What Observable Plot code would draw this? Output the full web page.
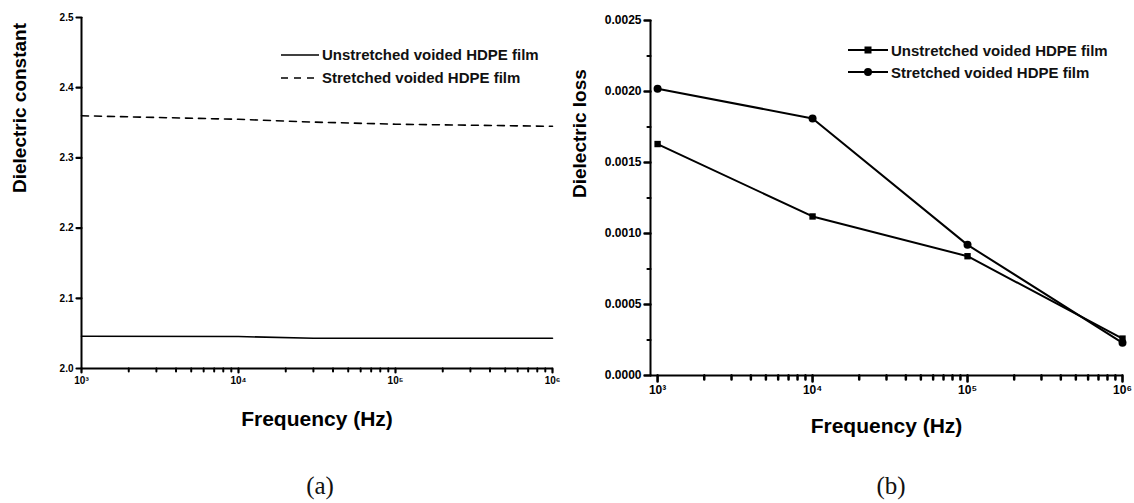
<!DOCTYPE html>
<html>
<head>
<meta charset="utf-8">
<script src="https://cdn.jsdelivr.net/npm/d3@7"></script>
<script src="https://cdn.jsdelivr.net/npm/@observablehq/plot@0.6"></script>
<style>
  body { margin: 0; background: #fff; }
  #wrap { position: relative; width: 1134px; height: 503px; overflow: hidden; font-family: "Liberation Sans", Arial, sans-serif; color: #111; }
  .panel { position: absolute; top: 0; }
  .legend { position: absolute; font-weight: bold; font-size: 15px; color: #111; }
  .legend .row { display: flex; align-items: center; white-space: nowrap; }
  .legend svg { margin-right: 3px; }
  .cap { position: absolute; font-family: "Liberation Serif", "DejaVu Serif", serif; font-size: 25px; color: #111; transform: translateX(-50%); }
</style>
</head>
<body>
<div id="wrap">
  <div id="pa" class="panel" style="left:0"></div>
  <div id="pb" class="panel" style="left:567px"></div>
  <div id="lega" class="legend" style="left:281px; top:43px"></div>
  <div id="legb" class="legend" style="left:848px; top:39px"></div>
  <div class="cap" id="capa" style="left:320px; top:472px"></div>
  <div class="cap" id="capb" style="left:891px; top:472px"></div>
</div>
<script>
// ---- Data ----
const seriesNames = ["Unstretched voided HDPE film", "Stretched voided HDPE film"];
const panelCaptions = ["(a)", "(b)"];
const xLabel = "Frequency (Hz)";
const yLabelA = "Dielectric constant";
const yLabelB = "Dielectric loss";

// (a) dielectric constant
const freqA = [1e3, 1e4, 3e4, 1e5, 1e6];
const unstretchedA = [2.046, 2.0455, 2.043, 2.043, 2.043];
const stretchedA = [2.360, 2.355, 2.351, 2.348, 2.345];
const yTicksA = [2.0, 2.1, 2.2, 2.3, 2.4, 2.5];

// (b) dielectric loss
const freqB = [1e3, 1e4, 1e5, 1e6];
const unstretchedB = [0.00163, 0.00112, 0.00084, 0.00026];
const stretchedB = [0.00202, 0.00181, 0.00092, 0.00023];
const yTicksB = [0, 0.0005, 0.0010, 0.0015, 0.0020, 0.0025];
const yMinorB = [0.00025, 0.00075, 0.00125, 0.00175, 0.00225];

const xMajor = [1e3, 1e4, 1e5, 1e6];
const xMinor = [];
for (let e = 3; e < 6; e++) for (let m = 2; m <= 9; m++) xMinor.push(m * 10 ** e);

const sup = {"0":"⁰","1":"¹","2":"²","3":"³","4":"⁴","5":"⁵","6":"⁶","7":"⁷","8":"⁸","9":"⁹"};
const fmtPow = d => "10" + String(Math.round(Math.log10(d))).split("").map(c => sup[c]).join("");

const ink = "#000";

// tick marks drawn as thin zero-width spikes hanging off the axis lines
const xTicks = (vals, yBase, len, w) => Plot.vector(vals, {x: d => d, y: yBase, length: len, rotate: 180, anchor: "start", shape: "spike", r: 0.01, stroke: ink, strokeWidth: w, fill: "none"});
const yTicks = (vals, xBase, len, w) => Plot.vector(vals, {x: xBase, y: d => d, length: len, rotate: 270, anchor: "start", shape: "spike", r: 0.01, stroke: ink, strokeWidth: w, fill: "none"});

// ---- Panel (a) ----
const rowsA = freqA.flatMap((f, i) => [
  {f, v: unstretchedA[i], s: seriesNames[0]},
  {f, v: stretchedA[i], s: seriesNames[1]}
]);
const xDomainA = [1e3, 1e6];
const chartA = Plot.plot({
  width: 567, height: 450,
  marginLeft: 81, marginRight: 15, marginTop: 17, marginBottom: 82,
  style: {fontFamily: "Liberation Sans, Arial, sans-serif", color: ink, background: "#fff"},
  x: {type: "log", domain: xDomainA},
  y: {domain: [2.0, 2.5]},
  marks: [
    Plot.axisY({ticks: yTicksA, tickSize: 0, tickPadding: 8, tickFormat: d => d.toFixed(1), fontSize: 10, fontWeight: "bold", letterSpacing: 1.5, label: null}),
    Plot.axisX({ticks: xMajor, tickSize: 0, tickPadding: 8, tickFormat: fmtPow, fontSize: 10, fontWeight: "bold", label: null}),
    xTicks(xMinor, yTicksA[0], 3, 2),
    xTicks(xMajor, yTicksA[0], 4, 2.2),
    yTicks(yTicksA, xDomainA[0], 5, 2.2),
    Plot.ruleY([yTicksA[0]], {stroke: ink, strokeWidth: 2}),
    Plot.ruleX([xDomainA[0]], {stroke: ink, strokeWidth: 2}),
    Plot.line(rowsA.filter(d => d.s === seriesNames[0]), {x: "f", y: "v", stroke: ink, strokeWidth: 1.6}),
    Plot.line(rowsA.filter(d => d.s === seriesNames[1]), {x: "f", y: "v", stroke: ink, strokeWidth: 1.6, strokeDasharray: "7,6"}),
    Plot.text([xLabel], {text: d => d, frameAnchor: "bottom", dy: 57, fontSize: 21, fontWeight: "bold", fill: ink}),
    Plot.text([yLabelA], {text: d => d, frameAnchor: "left", dx: -62, rotate: -90, fontSize: 19, fontWeight: "bold", fill: ink})
  ]
});
document.getElementById("pa").appendChild(chartA);

// ---- Panel (b) ----
const rowsB = freqB.flatMap((f, i) => [
  {f, v: unstretchedB[i], s: seriesNames[0]},
  {f, v: stretchedB[i], s: seriesNames[1]}
]);
const xDomainB = [900, 1e6];
const chartB = Plot.plot({
  width: 567, height: 450,
  marginLeft: 83, marginRight: 12, marginTop: 20, marginBottom: 75,
  style: {fontFamily: "Liberation Sans, Arial, sans-serif", color: ink, background: "#fff"},
  x: {type: "log", domain: xDomainB},
  y: {domain: [0, 0.0025]},
  marks: [
    Plot.axisY({ticks: yTicksB, tickSize: 0, tickPadding: 9, tickFormat: d => d.toFixed(4), fontSize: 12, fontWeight: "bold", letterSpacing: 0.6, label: null}),
    Plot.axisX({ticks: xMajor, tickSize: 0, tickPadding: 10, tickFormat: fmtPow, fontSize: 12, fontWeight: "bold", label: null}),
    xTicks(xMinor, yTicksB[0], 4, 2.5),
    xTicks(xMajor, yTicksB[0], 6, 2.6),
    yTicks(yMinorB, xDomainB[0], 3, 2.2),
    yTicks(yTicksB, xDomainB[0], 6, 2.4),
    Plot.ruleY([yTicksB[0]], {stroke: ink, strokeWidth: 2}),
    Plot.ruleX([xDomainB[0]], {stroke: ink, strokeWidth: 2}),
    Plot.line(rowsB, {x: "f", y: "v", z: "s", stroke: ink, strokeWidth: 2}),
    Plot.dot(rowsB.filter(d => d.s === seriesNames[0]), {x: "f", y: "v", symbol: "square", r: 3.6, fill: ink}),
    Plot.dot(rowsB.filter(d => d.s === seriesNames[1]), {x: "f", y: "v", symbol: "circle", r: 4, fill: ink}),
    Plot.text([xLabel], {text: d => d, frameAnchor: "bottom", dy: 57, fontSize: 21, fontWeight: "bold", fill: ink}),
    Plot.text([yLabelB], {text: d => d, frameAnchor: "left", dx: -71, rotate: -90, fontSize: 19, fontWeight: "bold", fill: ink})
  ]
});
document.getElementById("pb").appendChild(chartB);

// ---- Legends ----
function legendRow(parent, name, sample, h) {
  const row = document.createElement("div");
  row.className = "row";
  row.style.height = h + "px";
  row.innerHTML = sample + "<span>" + name + "</span>";
  parent.appendChild(row);
}
const lega = document.getElementById("lega");
legendRow(lega, seriesNames[0], `<svg width="38" height="6"><line x1="0" x2="38" y1="3" y2="3" stroke="${ink}" stroke-width="1.6"/></svg>`, 23);
legendRow(lega, seriesNames[1], `<svg width="38" height="6"><line x1="0" x2="38" y1="3" y2="3" stroke="${ink}" stroke-width="1.6" stroke-dasharray="7,6"/></svg>`, 23);
const legb = document.getElementById("legb");
legendRow(legb, seriesNames[0], `<svg width="40" height="10"><line x1="0" x2="40" y1="5" y2="5" stroke="${ink}" stroke-width="2"/><rect x="16.5" y="1.5" width="7" height="7" fill="${ink}"/></svg>`, 22);
legendRow(legb, seriesNames[1], `<svg width="40" height="10"><line x1="0" x2="40" y1="5" y2="5" stroke="${ink}" stroke-width="2"/><circle cx="20" cy="5" r="4" fill="${ink}"/></svg>`, 22);

document.getElementById("capa").textContent = panelCaptions[0];
document.getElementById("capb").textContent = panelCaptions[1];
</script>
</body>
</html>
